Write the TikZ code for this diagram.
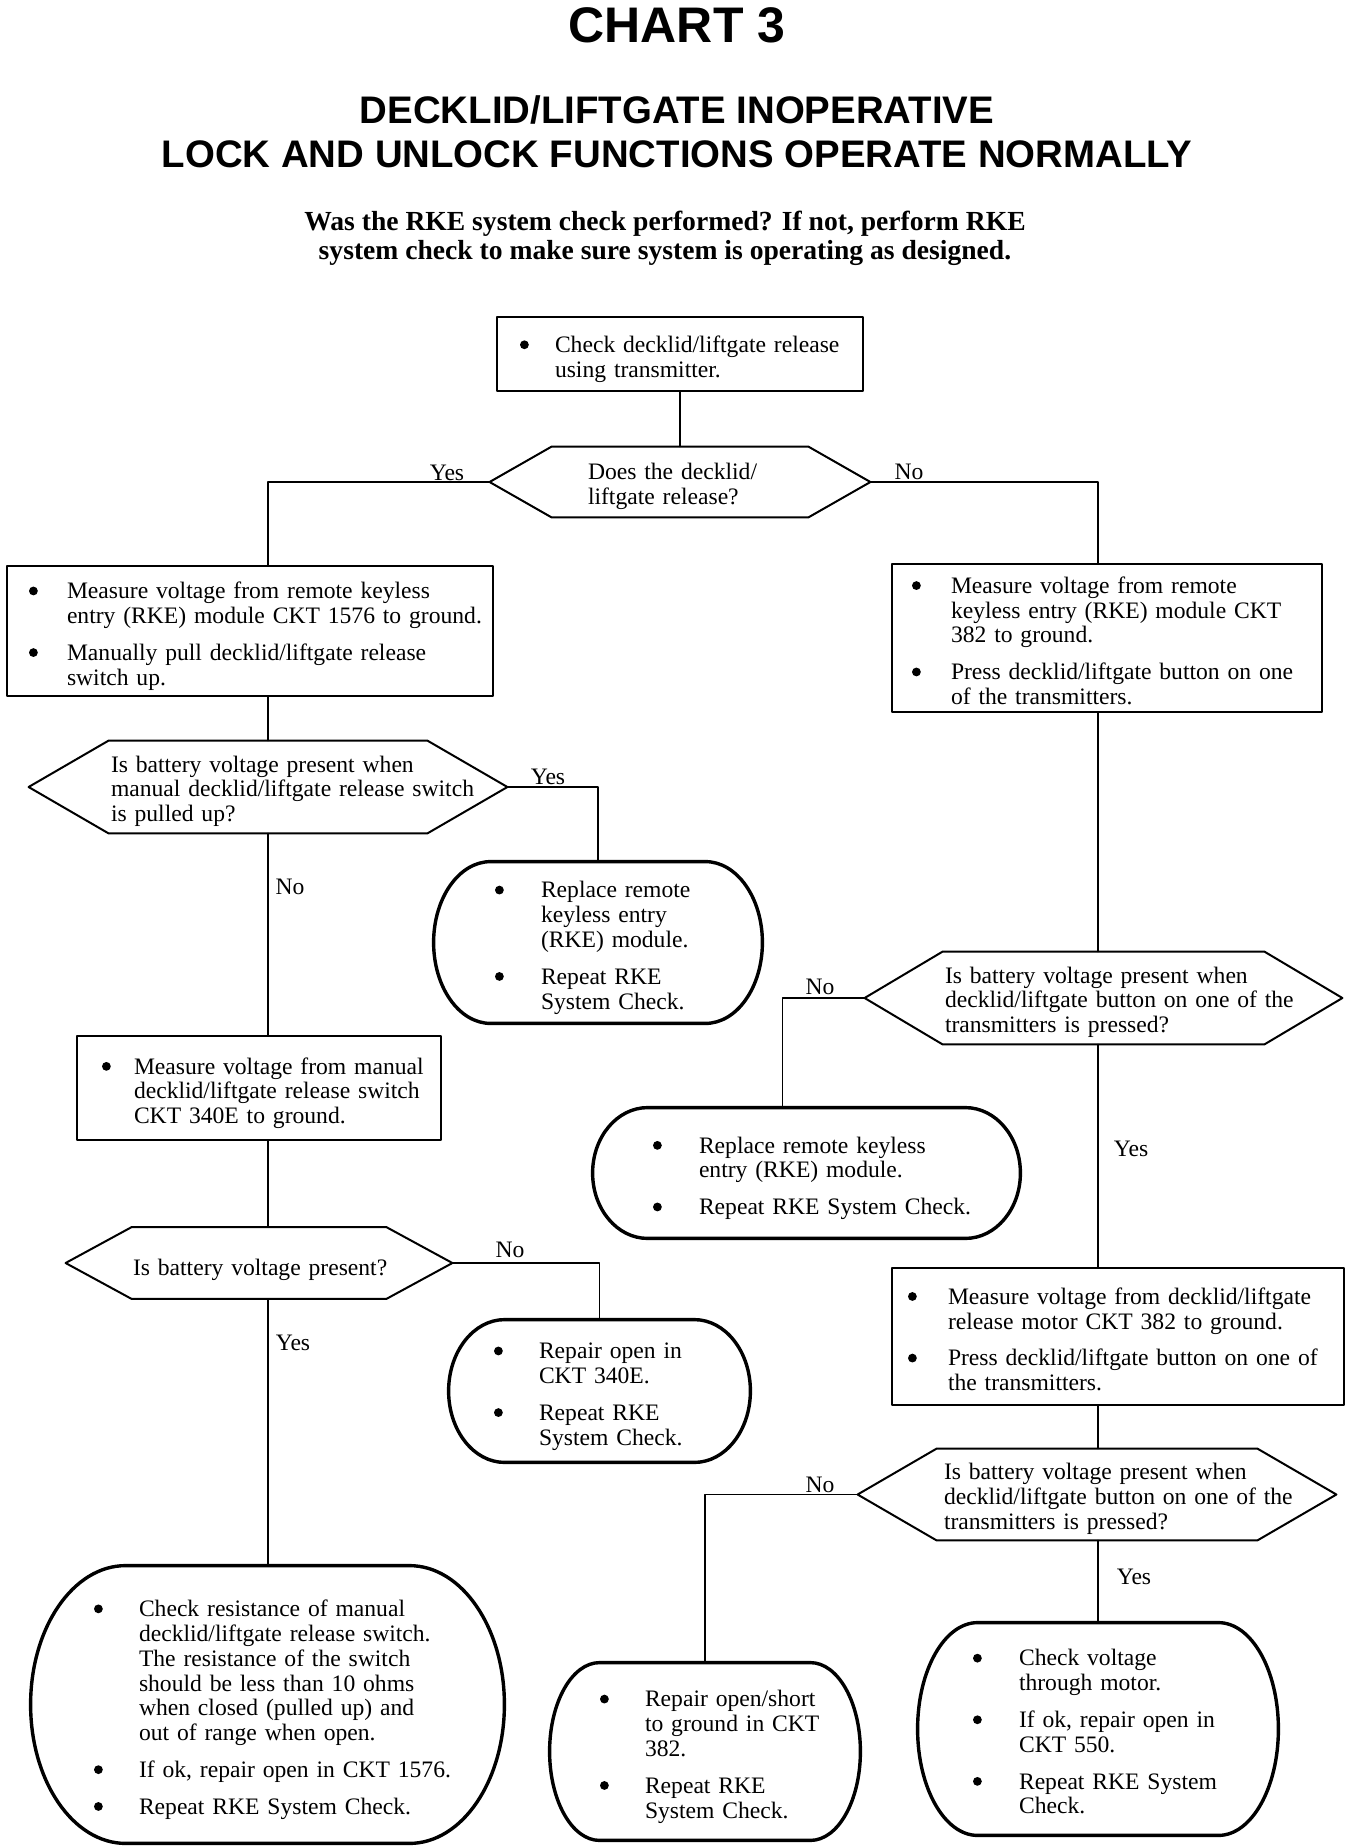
\documentclass[tikz,border=0pt]{standalone}
\usepackage{fontspec}
\setmainfont{Liberation Serif}
\setsansfont{Liberation Sans}
\usetikzlibrary{calc}
\newcommand{\bodyfont}{\fontsize{11.8}{12.4}\selectfont}
\newcommand{\bu}{\tikz[baseline=-3.9pt]\fill (0pt,0pt) circle[radius=2.2pt];}
\newcommand{\bl}[2]{\vspace*{5pt}\par\noindent\begin{tabular}{@{}p{#1}@{}l@{}}#2\end{tabular}}
\newcommand{\tl}[1]{\vspace*{4pt}\par\noindent\begin{tabular}{@{}l@{}}#1\end{tabular}}
\newcommand{\hexa}[2]{\draw[line width=1pt] (#1.west) -- ([xshift=#2]#1.north west) -- ([xshift=-#2]#1.north east) -- (#1.east) -- ([xshift=-#2]#1.south east) -- ([xshift=#2]#1.south west) -- cycle;}
\newcommand{\pill}[2]{\draw[line width=1.7pt] let \p1=(#1.north west), \p2=(#1.south east), \n1={(\y1-\y2)/2} in (\x1+#2,\y1) -- (\x2-#2,\y1) arc[start angle=90,end angle=-90,x radius=#2,y radius=\n1] -- (\x1+#2,\y2) arc[start angle=270,end angle=90,x radius=#2,y radius=\n1] -- cycle;}

\begin{document}
\begin{tikzpicture}[x=0.5pt, y=-0.5pt, line join=round, line cap=round,
  chkbox/.style={draw, line width=1pt, inner ysep=0pt, font=\bodyfont},
  askhex/.style={inner ysep=0pt, font=\bodyfont},
  endpill/.style={inner ysep=0pt, font=\bodyfont},
  ans/.style={inner sep=0pt, font=\bodyfont},
  wire/.style={line width=0.7pt}]
	\def\W{1360} \def\H{1848}
	\useasboundingbox (0,0) rectangle (\W,\H);
	\node[anchor=base, font=\sffamily\bfseries\fontsize{25}{30}\selectfont] (chart) at (677,42) {CHART 3};
	\node[anchor=base, font=\sffamily\bfseries\fontsize{19.2}{23}\selectfont] (head1) at (677,123) {DECKLID/LIFTGATE INOPERATIVE};
	\node[anchor=base, font=\sffamily\bfseries\fontsize{19.2}{23}\selectfont] (head2) at (677,167) {LOCK AND UNLOCK FUNCTIONS OPERATE NORMALLY};
	\node[anchor=base, font=\bfseries\fontsize{13.8}{16}\selectfont] (note1) at (665,230) {Was the RKE system check performed? If not, perform RKE};
	\node[anchor=base, font=\bfseries\fontsize{13.8}{16}\selectfont] (note2) at (665,259) {system check to make sure system is operating as designed.};
	% checks
	\node[chkbox, minimum width=183pt, minimum height=37pt, inner xsep=11.5pt, text width=160pt] (chk) at (680,354)
		{\bl{17.5pt}{\bu & Check decklid/liftgate release\\ & using transmitter.}};
	\node[chkbox, minimum width=243pt, minimum height=65pt, inner xsep=11pt, text width=221pt] (m1) at (250,631)
		{\bl{19pt}{\bu & Measure voltage from remote keyless\\ & entry (RKE) module CKT 1576 to ground.\\[6pt]
		\bu & Manually pull decklid/liftgate release\\ & switch up.}};
	\node[chkbox, minimum width=215pt, minimum height=74pt, inner xsep=10pt, text width=195pt] (m2) at (1107,638)
		{\bl{19.5pt}{\bu & Measure voltage from remote\\ & keyless entry (RKE) module CKT\\ & 382 to ground.\\[6pt]
		\bu & Press decklid/liftgate button on one\\ & of the transmitters.}};
	\node[chkbox, minimum width=182pt, minimum height=52pt, inner xsep=12.5pt, text width=157pt] (m3) at (259,1088)
		{\bl{16pt}{\bu & Measure voltage from manual\\ & decklid/liftgate release switch\\ & CKT 340E to ground.}};
	\node[chkbox, minimum width=226pt, minimum height=68.5pt, inner xsep=8pt, text width=210pt] (m4) at (1118,1336.5)
		{\bl{20pt}{\bu & Measure voltage from decklid/liftgate\\ & release motor CKT 382 to ground.\\[6pt]
		\bu & Press decklid/liftgate button on one of\\ & the transmitters.}};
	% questions
	\node[askhex, minimum width=190pt, minimum height=35pt, inner xsep=49pt, text width=92pt] (q1) at (680,482)
		{\tl{Does the decklid/\\liftgate release?}};
	\node[askhex, minimum width=239pt, minimum height=46pt, inner xsep=41pt, text width=157pt] (q2) at (268,787)
		{\tl{Is battery voltage present when\\manual decklid/liftgate release switch\\is pulled up?}};
	\node[askhex, minimum width=193pt, minimum height=35.5pt, inner xsep=33.5pt, text width=126pt] (q3) at (259,1263)
		{\tl{Is battery voltage present?}};
	\node[askhex, minimum width=238.5pt, minimum height=46pt, inner xsep=40pt, text width=158.5pt] (q4) at (1103.5,998)
		{\tl{Is battery voltage present when\\decklid/liftgate button on one of the\\transmitters is pressed?}};
	\node[askhex, minimum width=239pt, minimum height=45.5pt, inner xsep=43pt, text width=153pt] (q5) at (1097,1494.5)
		{\tl{Is battery voltage present when\\decklid/liftgate button on one of the\\transmitters is pressed?}};
	\hexa{q1}{31pt} \hexa{q2}{40pt} \hexa{q3}{33pt} \hexa{q4}{39pt} \hexa{q5}{39.5pt}
	% results
	\node[endpill, minimum width=164pt, minimum height=80.5pt, inner xsep=30.5pt, text width=103pt] (r1) at (598,942.5)
		{\bl{23pt}{\bu & Replace remote\\ & keyless entry\\ & (RKE) module.\\[6pt] \bu & Repeat RKE\\ & System Check.}};
	\node[endpill, minimum width=150.5pt, minimum height=71pt, inner xsep=22.5pt, text width=105.5pt] (r2) at (599.5,1391)
		{\bl{22.5pt}{\bu & Repair open in\\ & CKT 340E.\\[6pt] \bu & Repeat RKE\\ & System Check.}};
	\node[endpill, minimum width=236.5pt, minimum height=138.5pt, inner xsep=31.5pt, text width=173.5pt] (r3) at (267.5,1704.5)
		{\bl{22.5pt}{\bu & Check resistance of manual\\ & decklid/liftgate release switch.\\ & The resistance of the switch\\
		& should be less than 10 ohms\\ & when closed (pulled up) and\\ & out of range when open.\\[6pt]
		\bu & If ok, repair open in CKT 1576.\\[6pt] \bu & Repeat RKE System Check.}};
	\node[endpill, minimum width=213.5pt, minimum height=65pt, inner xsep=30pt, text width=153.5pt] (r4) at (806.5,1173)
		{\bl{23pt}{\bu & Replace remote keyless\\ & entry (RKE) module.\\[6pt] \bu & Repeat RKE System Check.}};
	\node[endpill, minimum width=155pt, minimum height=88.5pt, inner xsep=25pt, text width=105pt] (r5) at (705,1751.5)
		{\bl{22.5pt}{\bu & Repair open/short\\ & to ground in CKT\\ & 382.\\[6pt] \bu & Repeat RKE\\ & System Check.}};
	\node[endpill, minimum width=180pt, minimum height=106pt, inner xsep=27.5pt, text width=125pt] (r6) at (1098,1729)
		{\bl{23pt}{\bu & Check voltage\\ & through motor.\\[6pt] \bu & If ok, repair open in\\ & CKT 550.\\[6pt]
		\bu & Repeat RKE System\\ & Check.}};
	\pill{r1}{28.5pt} \pill{r2}{28pt} \pill{r3}{47.5pt} \pill{r4}{27.5pt} \pill{r5}{25pt} \pill{r6}{30pt}
	% connectors
	\coordinate (lc) at (268,0);
	\coordinate (rc) at (1098,0);
	\draw[wire] (chk.south) -- (q1.north);
	\draw[wire] (q1.west) -| (m1.north -| lc);
	\draw[wire] (q1.east) -| (m2.north -| rc);
	\draw[wire] (m1.south -| lc) -- (q2.north);
	\draw[wire] (q2.east) -| (r1.north);
	\draw[wire] (q2.south) -- (m3.north -| lc);
	\draw[wire] (m3.south -| lc) -- (q3.north -| lc);
	\draw[wire] (q3.east) -| (r2.north);
	\draw[wire] (q3.south -| lc) -- (r3.north -| lc);
	\draw[wire] (m2.south -| rc) -- (q4.north -| rc);
	\draw[wire] (q4.west) -| ([xshift=-12pt]r4.north);
	\draw[wire] (q4.south -| rc) -- (m4.north -| rc);
	\draw[wire] (m4.south -| rc) -- (q5.north -| rc);
	\draw[wire] (q5.west) -| (r5.north);
	\draw[wire] (q5.south -| rc) -- (r6.north -| rc);
	\foreach \t/\x/\y [count=\i] in {Yes/447/473, No/909/472, Yes/548/777, No/290/887, No/820/987, Yes/1131/1149, No/510/1250, Yes/293/1343, No/820/1485, Yes/1134/1577}
		\node[ans] (ans\i) at (\x,\y) {\t};
\end{tikzpicture}
\end{document}
